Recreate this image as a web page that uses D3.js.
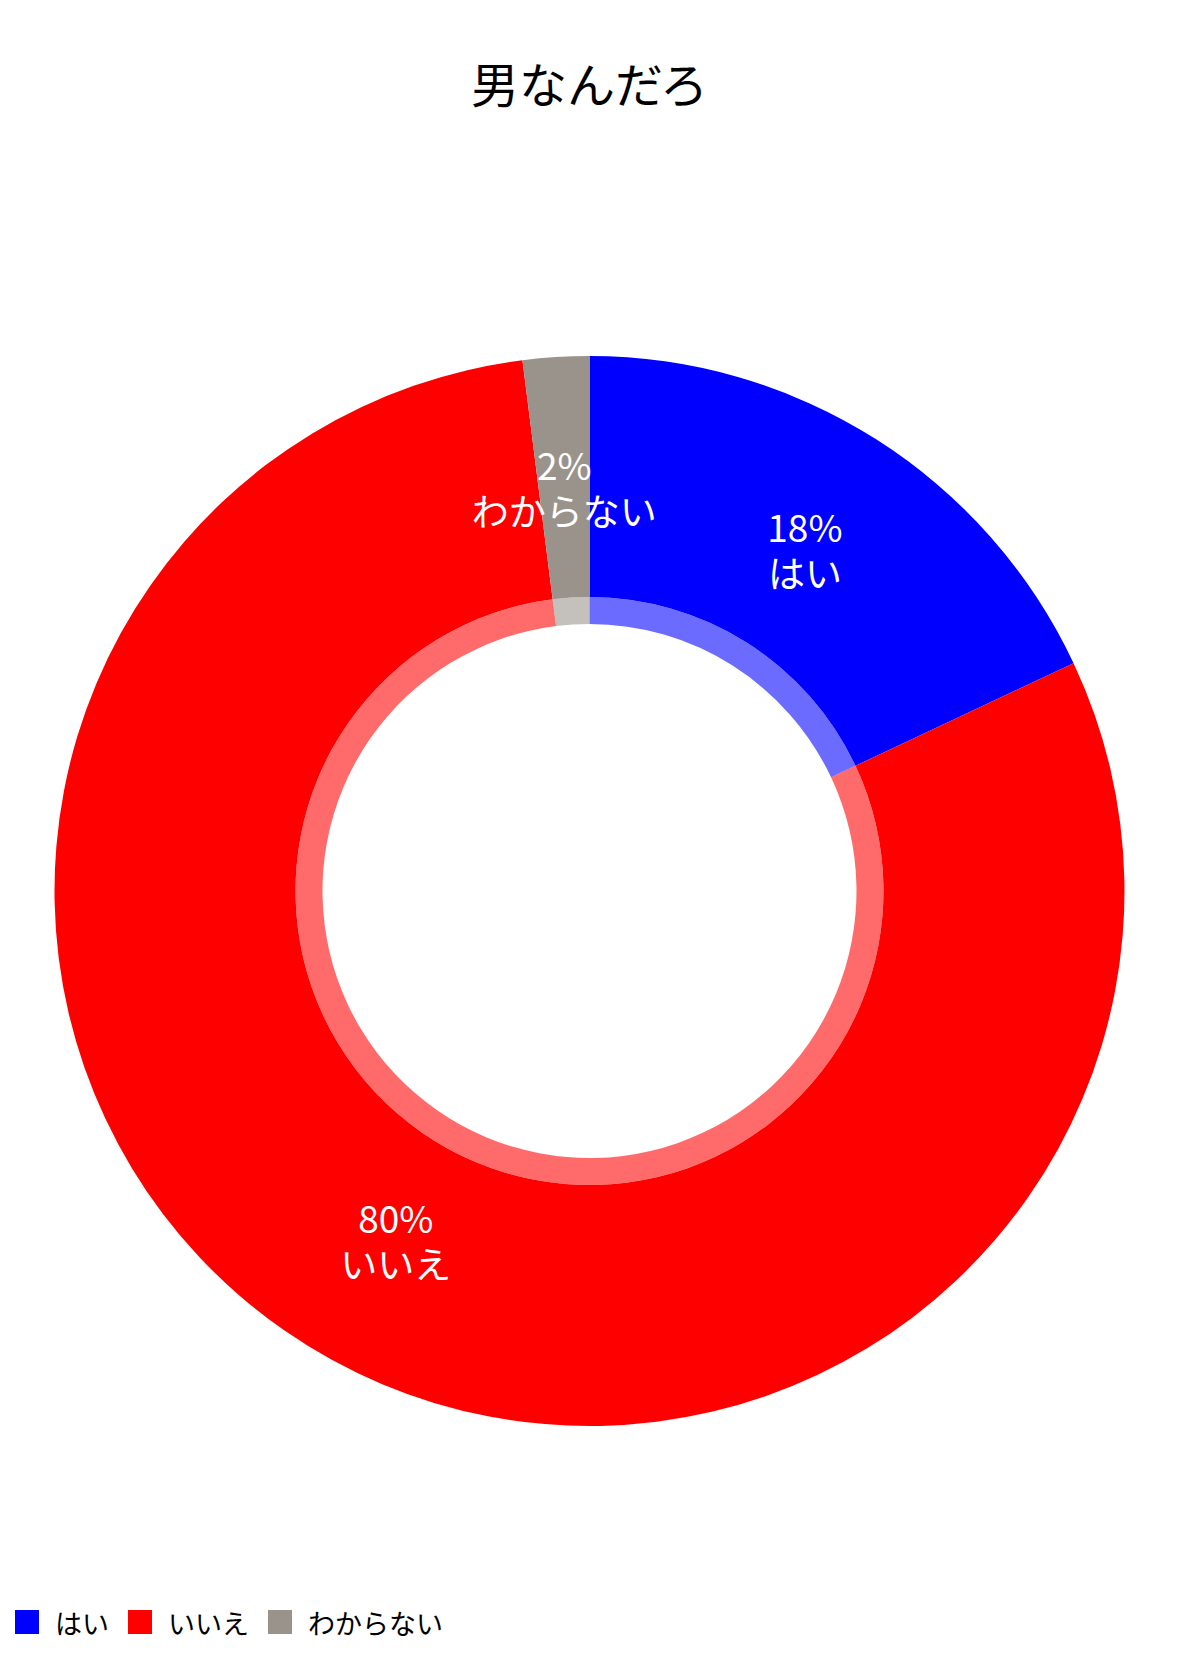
<!DOCTYPE html>
<html><head><meta charset="utf-8">
<script src="https://cdn.jsdelivr.net/npm/d3@7"></script>
<style>body{margin:0;background:#fff;}svg{display:block;}</style>
</head><body>
<svg id="c" width="1179" height="1659"></svg>
<script>
const title = "男なんだろ";
const categories = ["はい", "いいえ", "わからない"];
const values = [18, 80, 2];
const colors = ["#0000ff", "#ff0000", "#9a938c"];

const W = 1179, H = 1659;
const cx = 589.5, cy = 891;
const R = 535, r = 294, rBand = 267, rLabel = 402;
const font = "'Noto Sans CJK JP', 'Noto Sans', sans-serif";

const svg = d3.select("#c");
svg.append("text").attr("x", W/2).attr("y", 82).attr("text-anchor","middle")
  .attr("dominant-baseline","central").attr("font-family", font).attr("font-size", 48)
  .attr("fill","#000").text(title);

const data = categories.map((c,i)=>({cat:c, value:values[i], color:colors[i]}));
const pie = d3.pie().sort(null).value(d=>d.value).startAngle(0).endAngle(2*Math.PI);
const arcs = pie(data);
const total = d3.sum(values);
const color = d3.scaleOrdinal().domain(categories).range(colors);

const g = svg.append("g").attr("transform", `translate(${cx},${cy})`);
const arcMain = d3.arc().innerRadius(r).outerRadius(R);
const arcBand = d3.arc().innerRadius(rBand).outerRadius(r);
const arcLabel = d3.arc().innerRadius(rLabel).outerRadius(rLabel);

g.selectAll("path.main").data(arcs).join("path").attr("class","main")
  .attr("d", arcMain).attr("fill", d=>color(d.data.cat));
g.selectAll("path.band").data(arcs).join("path").attr("class","band")
  .attr("d", arcBand).attr("fill", d=>color(d.data.cat)).attr("fill-opacity", 0.58);

const lbl = g.selectAll("text.lbl").data(arcs).join("text").attr("class","lbl")
  .attr("transform", d=>`translate(${arcLabel.centroid(d)})`)
  .attr("text-anchor","middle").attr("font-family", font).attr("font-size", 37).attr("fill","#fff");
lbl.append("tspan").attr("x", 0).attr("y", -10)
  .text(d=>Math.round(d.data.value/total*100)+"%");
lbl.append("tspan").attr("x", 0).attr("y", 36)
  .text(d=>d.data.cat);

// legend
const leg = svg.append("g").attr("transform","translate(15,1622)");
let x = 0;
categories.forEach((c,i)=>{
  leg.append("rect").attr("x", x).attr("y", -12).attr("width", 24).attr("height", 24).attr("fill", color(c));
  const t = leg.append("text").attr("x", x+40).attr("y", 0).attr("dominant-baseline","central")
    .attr("font-family", font).attr("font-size", 27).attr("fill","#000").text(c);
  x += 40 + t.node().getComputedTextLength() + 19;
});
</script>
</body></html>
